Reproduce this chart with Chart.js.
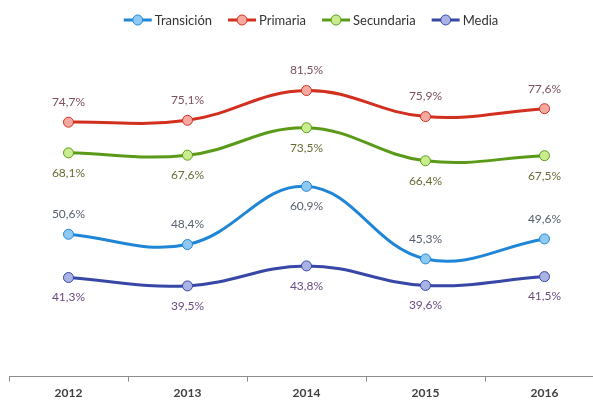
<!DOCTYPE html>
<html>
<head>
<meta charset="utf-8">
<script src="https://cdn.jsdelivr.net/npm/chart.js@4"></script>
<style>
html,body{margin:0;padding:0;background:#fff;overflow:hidden;}
#wrap{width:593px;height:401px;position:relative;overflow:hidden;}
</style>
</head>
<body>
<div id="wrap"><canvas id="c" width="612" height="408"></canvas></div>
<script>
const categories = ['2012','2013','2014','2015','2016'];
const transicion = [50.6, 48.4, 60.9, 45.3, 49.6];
const primaria   = [74.7, 75.1, 81.5, 75.9, 77.6];
const secundaria = [68.1, 67.6, 73.5, 66.4, 67.5];
const media      = [41.3, 39.5, 43.8, 39.6, 41.5];
const seriesNames = ['Transición','Primaria','Secundaria','Media'];
// label placement: 1 = above, -1 = below
const transicionPos = [1, 1, -1, 1, 1];
const primariaPos   = [1, 1, 1, 1, 1];
const secundariaPos = [-1, -1, -1, -1, -1];
const mediaPos      = [-1, -1, -1, -1, -1];

const styles = [
  {line:'#1f86d6', fill:'#8fc9f2', label:'#56606e'},
  {line:'#d22f1f', fill:'#f6a9a1', label:'#7c4f5c'},
  {line:'#5b9a19', fill:'#c9ec8e', label:'#6a6a36'},
  {line:'#3847a6', fill:'#a9b3e4', label:'#6a4c80'}
];
const values = [transicion, primaria, secundaria, media];
const positions = [transicionPos, primariaPos, secundariaPos, mediaPos];

const FONT = 'Lato, "Open Sans", sans-serif';

const labelPlugin = {
  id: 'pctLabels',
  afterDatasetsDraw(chart) {
    const ctx = chart.ctx;
    ctx.save();
    ctx.font = '12px ' + FONT;
    ctx.textAlign = 'center';
    ctx.textBaseline = 'middle';
    chart.data.datasets.forEach((ds, i) => {
      const meta = chart.getDatasetMeta(i);
      meta.data.forEach((pt, j) => {
        const v = ds.data[j];
        const txt = v.toFixed(1).replace('.', ',') + '%';
        ctx.fillStyle = styles[i].label;
        ctx.fillText(txt, pt.x, pt.y - 20 * positions[i][j]);
      });
    });
    ctx.restore();
  }
};

const legendPlugin = {
  id: 'lineLegend',
  afterDraw(chart) {
    const ctx = chart.ctx;
    ctx.save();
    ctx.font = '13px ' + FONT;
    ctx.textBaseline = 'middle';
    const lineW = 28, gapText = 3, gapItem = 16;
    const widths = seriesNames.map(n => ctx.measureText(n).width);
    let total = 0;
    widths.forEach(w => total += lineW + gapText + w);
    total += gapItem * (seriesNames.length - 1);
    let x = 311 - total / 2;
    const y = 20;
    seriesNames.forEach((n, i) => {
      ctx.strokeStyle = styles[i].line;
      ctx.lineWidth = 3;
      ctx.beginPath();
      ctx.moveTo(x, y);
      ctx.lineTo(x + lineW, y);
      ctx.stroke();
      ctx.beginPath();
      ctx.arc(x + lineW / 2, y, 5, 0, Math.PI * 2);
      ctx.fillStyle = styles[i].fill;
      ctx.fill();
      ctx.lineWidth = 1;
      ctx.stroke();
      ctx.fillStyle = '#333333';
      ctx.textAlign = 'left';
      ctx.fillText(n, x + lineW + gapText, y + 1);
      x += lineW + gapText + widths[i] + gapItem;
    });
    ctx.restore();
  }
};

const datasets = values.map((vals, i) => ({
  label: seriesNames[i],
  data: vals,
  borderColor: styles[i].line,
  backgroundColor: styles[i].fill,
  borderWidth: 3,
  pointRadius: 5,
  pointBorderWidth: 1,
  pointBorderColor: styles[i].line,
  pointBackgroundColor: styles[i].fill,
  tension: 0.4,
  clip: false
}));

new Chart(document.getElementById('c'), {
  type: 'line',
  data: { labels: categories, datasets },
  options: {
    responsive: false,
    animation: false,
    layout: { padding: { left: 9, right: 8, top: 51, bottom: 4 } },
    plugins: { legend: { display: false }, tooltip: { enabled: false } },
    scales: {
      x: {
        offset: true,
        grid: { display: true, offset: true, drawOnChartArea: false, drawTicks: true, tickLength: 5, color: '#8c8c8c' },
        border: { display: true, color: '#8c8c8c', width: 1 },
        ticks: { color: '#404040', font: { family: FONT, size: 12, weight: 'bold' }, padding: 4 }
      },
      y: {
        display: false,
        min: 20,
        max: 90
      }
    }
  },
  plugins: [labelPlugin, legendPlugin]
});
</script>
</body>
</html>
